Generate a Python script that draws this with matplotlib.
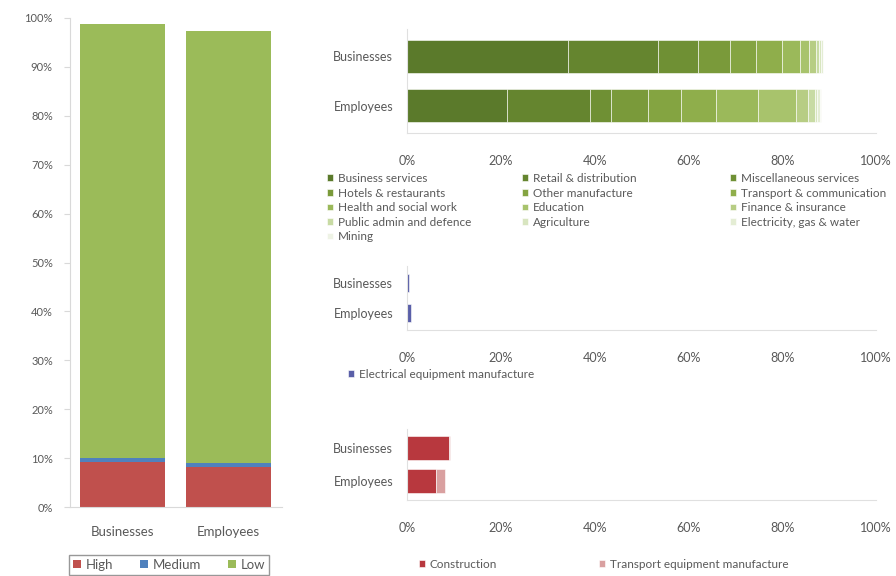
import numpy as np
import matplotlib
matplotlib.use("Agg")
import matplotlib.pyplot as plt
from matplotlib.patches import Patch

plt.rcParams['font.family'] = ['Lato', 'DejaVu Sans']
txt = '#595959'

# left chart: technology intensity share
cats = ["Businesses", "Employees"]
tech_levels = ["High", "Medium", "Low"]
high = [0.092, 0.082]
medium = [0.008, 0.008]
low = [0.888, 0.883]

# top right: low tech sectors
low_sectors = ["Business services", "Retail & distribution", "Miscellaneous services",
               "Hotels & restaurants", "Other manufacture", "Transport & communication",
               "Health and social work", "Education", "Finance & insurance",
               "Public admin and defence", "Agriculture", "Electricity, gas & water", "Mining"]
low_bus = [0.344, 0.191, 0.085, 0.069, 0.055, 0.056, 0.038, 0.020, 0.015, 0.005, 0.005, 0.003, 0.002]
low_emp = [0.213, 0.177, 0.045, 0.079, 0.070, 0.075, 0.090, 0.080, 0.025, 0.015, 0.006, 0.005, 0.003]
low_cols = ['#5b7a2b', '#65852f', '#6f9034', '#7a9a3a', '#84a441', '#8fae4b', '#9bb95a',
            '#a8c36c', '#b7cd84', '#c8dba4', '#d8e5c0', '#e4edd4', '#eef3e5']

# middle: medium tech sectors
med_sectors = ["Electrical equipment manufacture"]
med_bus = [0.005]
med_emp = [0.009]

# bottom: high tech sectors
high_sectors = ["Construction", "Transport equipment manufacture"]
high_bus = [0.090, 0.002]
high_emp = [0.062, 0.020]
high_cols = ['#b8383e', '#d9a0a0']

fig = plt.figure(figsize=(8.96, 5.76), dpi=100)

# ---- left stacked column chart
ax = fig.add_axes([69.5/896, 69/576, 212/896, 489/576])
x = np.arange(len(cats))
ax.bar(x, high, 0.8, color='#c0504d', label=tech_levels[0])
ax.bar(x, medium, 0.8, bottom=high, color='#4f81bd', label=tech_levels[1])
ax.bar(x, low, 0.8, bottom=np.add(high, medium), color='#9bbb59', label=tech_levels[2])
ax.set_xlim(-0.5, 1.5)
ax.set_ylim(0, 1)
ax.set_yticks(np.arange(0, 1.01, 0.1))
ax.set_yticklabels([f"{int(round(v*100))}%" for v in np.arange(0, 1.01, 0.1)])
ax.set_xticks(x)
ax.set_xticklabels(cats)
ax.tick_params(axis='x', length=0, pad=14, labelsize=9.5, colors=txt)
ax.tick_params(axis='y', length=4, pad=8, labelsize=8, colors=txt, color='#d9d9d9')
for s in ['top', 'right']:
    ax.spines[s].set_visible(False)
for s in ['left', 'bottom']:
    ax.spines[s].set_color('#d9d9d9')
leg = ax.legend(loc='center', bbox_to_anchor=(0.47, -0.118), ncol=3, fontsize=9.5,
                handlelength=0.6, handleheight=0.6, handletextpad=0.4, columnspacing=2.0,
                frameon=True, fancybox=False, edgecolor='#7f7f7f', borderpad=0.3)
for t in leg.get_texts():
    t.set_color(txt)


def hbar_panel(rect, bus, emp, cols, labels, height):
    a = fig.add_axes(rect)
    ypos = [1, 0]
    left_b = 0.0
    left_e = 0.0
    handles = []
    for i in range(len(bus)):
        b = a.barh(ypos, [bus[i], emp[i]], height, left=[left_b, left_e], color=cols[i],
                   edgecolor='white', linewidth=0.4, label=labels[i])
        handles.append(b)
        left_b += bus[i]
        left_e += emp[i]
    a.set_xlim(0, 1)
    a.set_ylim(-0.56, 1.56)
    a.set_xticks(np.arange(0, 1.01, 0.2))
    a.set_xticklabels([f"{int(round(v*100))}%" for v in np.arange(0, 1.01, 0.2)])
    a.set_yticks(ypos)
    a.set_yticklabels(cats)
    a.tick_params(axis='x', length=0, pad=16, labelsize=9, colors=txt)
    a.tick_params(axis='y', length=0, pad=10, labelsize=9, colors=txt)
    for s in ['top', 'right']:
        a.spines[s].set_visible(False)
    for s in ['left', 'bottom']:
        a.spines[s].set_color('#e0e0e0')
    return handles


def col_legend(handles, labels, xpx, ypx):
    lg = fig.legend(handles, labels, loc='upper left',
                    bbox_to_anchor=(xpx/896, 1 - ypx/576), fontsize=8.5,
                    handlelength=0.5, handleheight=0.5, handletextpad=0.4,
                    labelspacing=0.3, frameon=False, borderpad=0, borderaxespad=0)
    for t in lg.get_texts():
        t.set_color(txt)


h = hbar_panel([407/896, 443/576, 469/896, 104/576], low_bus, low_emp, low_cols,
               low_sectors, 0.67)
# legend is row-major over three columns
for c, xpx in enumerate([327, 522, 730]):
    idx = list(range(c, len(low_sectors), 3))
    col_legend([h[i] for i in idx], [low_sectors[i] for i in idx], xpx, 173)

h = hbar_panel([407/896, 246/576, 469/896, 64/576], med_bus, med_emp, ['#5a5fa8'],
               med_sectors, 0.6)
col_legend(h, med_sectors, 348, 369)

h = hbar_panel([407/896, 76/576, 469/896, 71/576], high_bus, high_emp, high_cols,
               high_sectors, 0.72)
col_legend([h[0]], [high_sectors[0]], 419, 559)
col_legend([h[1]], [high_sectors[1]], 599, 559)

fig.savefig("out.png", dpi=100)
